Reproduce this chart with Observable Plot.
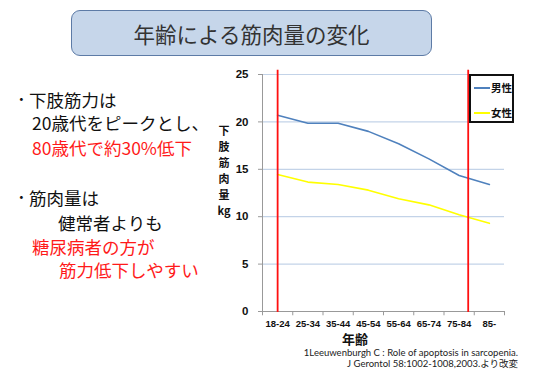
<!DOCTYPE html>
<html><head><meta charset="utf-8">
<script src="https://cdn.jsdelivr.net/npm/d3@7"></script>
<script src="https://cdn.jsdelivr.net/npm/@observablehq/plot@0.6"></script>
<style>
html,body{margin:0;padding:0;background:#fff;}
#wrap{position:relative;width:540px;height:391px;overflow:hidden;font-family:"Noto Sans CJK JP",sans-serif;}
.abs{position:absolute;white-space:nowrap;}
#title{left:71px;top:10px;width:359px;height:44px;border:1.5px solid #5d7ba6;border-radius:9px;background:#c6d6ea;
 display:flex;align-items:center;justify-content:center;font-size:21.5px;color:#333;}
.bt{font-size:17.5px;color:#111;line-height:24px;}
.red{color:#ff1a1a;}
.ych{position:absolute;left:214px;width:20px;text-align:center;font-weight:bold;font-size:11px;line-height:15px;color:#111;}
#xlab{left:342px;top:329px;font-weight:bold;font-size:13px;color:#111;}
#cite{right:22px;top:347px;text-align:right;font-size:9.5px;line-height:11px;color:#222;font-family:"Lato","Noto Sans CJK JP",sans-serif;}
#legend{left:469px;top:74px;width:41px;height:45px;border:2px solid #111;background:#fff;}
.li{position:absolute;left:3px;font-size:10.5px;font-weight:bold;color:#111;display:flex;align-items:center;}
.li span.sw{display:inline-block;width:16px;height:2px;margin-right:1px;}
#chart{left:200px;top:60px;}
</style></head>
<body><div id="wrap">
<div id="title" class="abs">年齢による筋肉量の変化</div>
<div class="abs bt" style="left:17px;top:87px;">･</div>
<div class="abs bt" style="left:29px;top:88px;">下肢筋力は</div>
<div class="abs bt" style="left:32px;top:111px;">20歳代をピークとし、</div>
<div class="abs bt red" style="left:32px;top:136px;">80歳代で約30%低下</div>
<div class="abs bt" style="left:17px;top:185px;">･</div>
<div class="abs bt" style="left:29px;top:186px;">筋肉量は</div>
<div class="abs bt" style="left:58px;top:211px;">健常者よりも</div>
<div class="abs bt red" style="left:32px;top:235px;">糖尿病者の方が</div>
<div class="abs bt red" style="left:59px;top:258px;">筋力低下しやすい</div>
<div id="chart" class="abs"></div>
<div class="ych" style="top:123px;">下</div>
<div class="ych" style="top:139px;">肢</div>
<div class="ych" style="top:155px;">筋</div>
<div class="ych" style="top:171px;">肉</div>
<div class="ych" style="top:187px;">量</div>
<div class="ych" style="top:203px;">kg</div>
<div id="xlab" class="abs">年齢</div>
<div id="cite" class="abs">1Leeuwenburgh C : Role of apoptosis in sarcopenia.<br>J Gerontol 58:1002-1008,2003.より改変</div>
<div id="legend" class="abs">
 <div class="li" style="top:4px;"><span class="sw" style="background:#4f81bd"></span>男性</div>
 <div class="li" style="top:29px;"><span class="sw" style="background:#ffff00"></span>女性</div>
</div>
</div>
<script>
const ageGroups = ["18-24","25-34","35-44","45-54","55-64","65-74","75-84","85-"];
const maleValues = [20.7, 19.85, 19.85, 19.0, 17.7, 16.1, 14.35, 13.4];
const femaleValues = [14.45, 13.65, 13.4, 12.8, 11.9, 11.25, 10.2, 9.3];
const yTicks = [0, 5, 10, 15, 20, 25];
const seriesNames = ["男性", "女性"];
const markerPositions = [0, 6.3];

const rows = [];
ageGroups.forEach((g, i) => {
  rows.push({i, v: maleValues[i], s: seriesNames[0]});
  rows.push({i, v: femaleValues[i], s: seriesNames[1]});
});
const bounds = d3.range(ageGroups.length + 1).map(k => k - 0.5);

const chart = Plot.plot({
  width: 320, height: 280,
  marginLeft: 62, marginRight: 16, marginTop: 14, marginBottom: 29,
  style: {fontFamily: "Liberation Sans, sans-serif", background: "transparent"},
  x: {type: "linear", domain: [-0.5, ageGroups.length - 0.5]},
  y: {domain: [0, 25]},
  marks: [
    Plot.gridY(yTicks, {stroke: "#c3d3e8", strokeOpacity: 1, strokeWidth: 1.2}),
    Plot.ruleX([-0.5], {stroke: "#999", strokeWidth: 1}),
    Plot.ruleY([0], {x1: -0.5, x2: ageGroups.length - 0.5, stroke: "#999"}),
    Plot.ruleX(bounds, {y1: 0, y2: -0.45, stroke: "#999"}),
    Plot.axisY(yTicks, {tickSize: 4, tickPadding: 10, fontWeight: "bold", fontSize: 11.5, stroke: "#999", fill: "#111", label: null}),
    Plot.axisX(d3.range(ageGroups.length), {tickSize: 0, tickPadding: 9, fontWeight: "bold", fontSize: 9.5, fill: "#111", tickFormat: i => ageGroups[i], label: null}),
    Plot.line(rows, {x: "i", y: "v", z: "s", stroke: d => d.s === seriesNames[0] ? "#4f81bd" : "#ffff00", strokeWidth: 1.6, curve: "linear"}),
    Plot.ruleX(markerPositions, {y1: -0.1, y2: 25.45, stroke: "#ff1010", strokeWidth: 1.8})
  ]
});
document.getElementById("chart").appendChild(chart);
</script>
</body></html>
